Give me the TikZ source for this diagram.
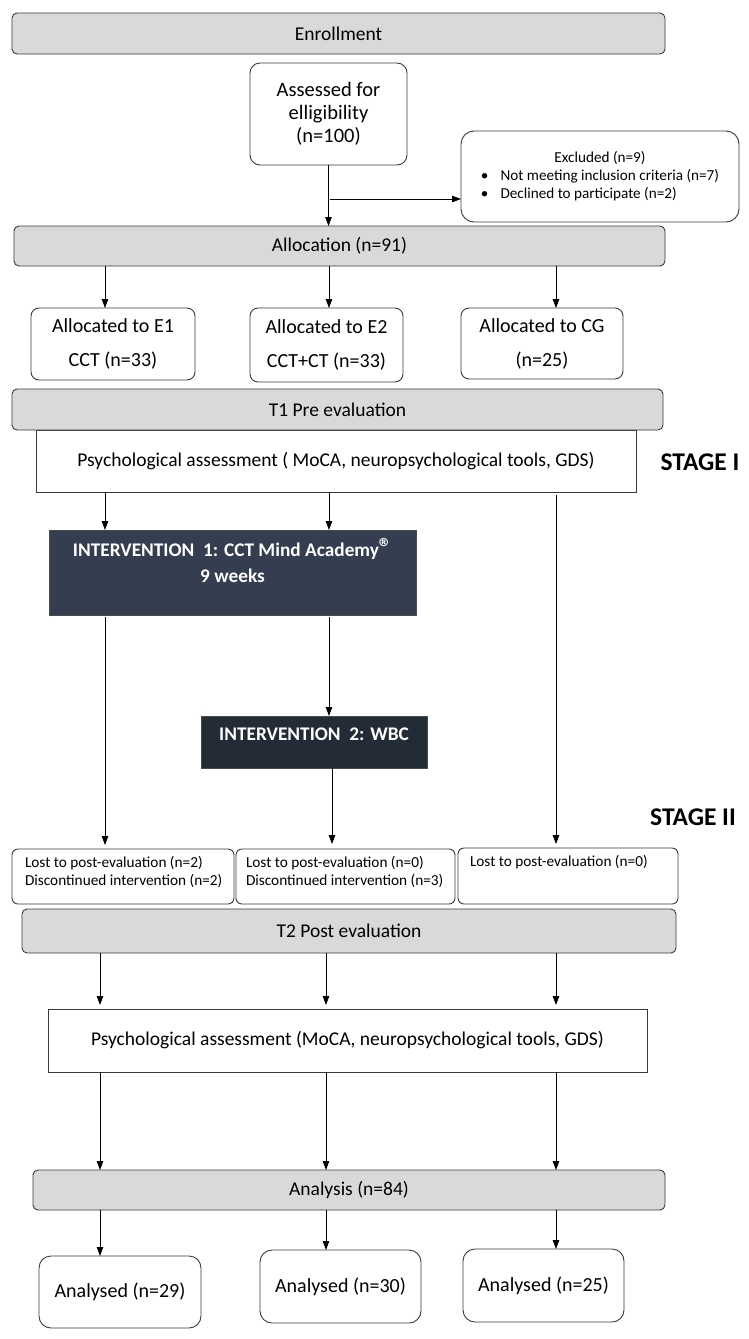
\documentclass[tikz,border=0pt]{standalone}
\usepackage{fontspec}
\setmainfont{Carlito}
\usetikzlibrary{arrows.meta}
\definecolor{boxgray}{HTML}{D9D9D9}
\definecolor{edge}{HTML}{3A3A3A}
\definecolor{darkA}{HTML}{343E50}
\definecolor{darkB}{HTML}{232B37}
\begin{document}
\begin{tikzpicture}[x=1pt,y=-1pt,
  every node/.style={inner sep=0pt, outer sep=0pt},
  graybar/.style={draw=edge, fill=boxgray, rounded corners=5pt, line width=0.9pt, font=\fontsize{19.5}{22}\selectfont},
  rbox/.style={draw=edge, fill=white, line width=0.9pt},
  plainbox/.style={draw=edge, fill=white, line width=0.9pt, font=\fontsize{19.5}{22}\selectfont},
  darkbox/.style={draw=black!70, fill=#1, line width=0.9pt},
  inttext/.style={text=white, font=\bfseries\fontsize{19.3}{26}\selectfont, align=center},
  smalltext/.style={font=\fontsize{15.3}{18}\selectfont, align=left},
  stagetext/.style={font=\bfseries\fontsize{25.5}{28}\selectfont},
  boxtext/.style={font=\fontsize{20}{20}\selectfont, align=center},
  arr/.style={-{Triangle[length=9pt,width=6.5pt]}, line width=0.75pt, black}]
\useasboundingbox[fill=white] (0,0) rectangle (749,1339);

% top part
\node[graybar, minimum width=653pt, minimum height=41pt] (enroll) at (338.5,33.5) {Enrollment};
\node[rbox, rounded corners=10pt, minimum width=157pt, minimum height=102pt, align=center, font=\fontsize{20.5}{23}\selectfont] (assess) at (328.5,114) {Assessed for\\elligibility\\(n=100)};
\node[rbox, rounded corners=13pt, minimum width=278pt, minimum height=91pt, font=\fontsize{15.2}{18}\selectfont] (excl) at (600,176.5)
  {\begin{tabular}{@{}l@{\hspace{12pt}}l@{}}\multicolumn{2}{c}{Excluded (n=9)}\\ \textbullet & Not meeting inclusion criteria (n=7)\\ \textbullet & Declined to participate (n=2)\end{tabular}};
\node[graybar, minimum width=651pt, minimum height=40pt] (alloc) at (339.5,246) {Allocation (n=91)};

\node[rbox, boxtext, rounded corners=8pt, minimum width=164pt, minimum height=72pt] (e1) at (113,344) {Allocated to E1\\[14pt]CCT (n=33)};
\node[rbox, boxtext, rounded corners=8pt, minimum width=153pt, minimum height=74pt] (e2) at (326.5,345) {Allocated to E2\\[14pt]CCT+CT (n=33)};
\node[rbox, boxtext, rounded corners=8pt, minimum width=162pt, minimum height=71pt] (cg) at (542,343.5) {Allocated to CG\\[14pt](n=25)};

\node[plainbox, minimum width=600pt, minimum height=62pt] (psy1) at (336,461) {Psychological assessment ( MoCA, neuropsychological tools, GDS)};
\node[graybar, minimum width=651pt, minimum height=41pt] (t1) at (337.5,409.5) {T1 Pre evaluation};
\node[stagetext] (st1) at (700,462) {STAGE I};

% interventions
\node[darkbox=darkA, minimum width=367pt, minimum height=85pt] (int1) at (232.5,572.5) {};
\node[inttext] (int1t) at (232.5,560) {INTERVENTION\ \ 1: CCT Mind Academy{\fontsize{26}{26}\selectfont ®}\\9 weeks};
\node[darkbox=darkB, minimum width=226pt, minimum height=52pt] (int2) at (314,742) {};
\node[inttext] (int2t) at (314,734) {INTERVENTION\ \ 2: WBC};
\node[stagetext] (st2) at (693,817) {STAGE II};

% lost boxes
\node[rbox, rounded corners=6pt, minimum width=222pt, minimum height=55pt] (lost1) at (123,876.5) {};
\node[rbox, rounded corners=6pt, minimum width=219pt, minimum height=55pt] (lost2) at (345.5,876.5) {};
\node[rbox, rounded corners=6pt, minimum width=220pt, minimum height=56pt] (lost3) at (568,876) {};
\node[smalltext, anchor=north west] (lost1t) at ([xshift=13pt,yshift=-7pt]lost1.north west) {Lost to post-evaluation (n=2)\\Discontinued intervention (n=2)};
\node[smalltext, anchor=north west] (lost2t) at ([xshift=10pt,yshift=-7pt]lost2.north west) {Lost to post-evaluation (n=0)\\Discontinued intervention (n=3)};
\node[smalltext, anchor=north west] (lost3t) at ([xshift=12pt,yshift=-7pt]lost3.north west) {Lost to post-evaluation (n=0)};

% bottom part
\node[graybar, minimum width=654pt, minimum height=44pt] (t2) at (349,931) {T2 Post evaluation};
\node[plainbox, minimum width=599pt, minimum height=63pt] (psy2) at (347.5,1040.5) {Psychological assessment (MoCA, neuropsychological tools, GDS)};
\node[graybar, minimum width=632pt, minimum height=40pt] (anal) at (349,1190) {Analysis (n=84)};
\node[rbox, boxtext, rounded corners=12pt, minimum width=162pt, minimum height=72pt] (a1) at (120,1292) {Analysed (n=29)};
\node[rbox, boxtext, rounded corners=12pt, minimum width=161pt, minimum height=73pt] (a2) at (340.5,1286.5) {Analysed (n=30)};
\node[rbox, boxtext, rounded corners=12pt, minimum width=161pt, minimum height=73pt] (a3) at (543.5,1285.5) {Analysed (n=25)};

% column coordinates
\coordinate (c1) at (105,0);
\coordinate (c2) at (329,0);
\coordinate (c2b) at (332,0);
\coordinate (c3) at (556,0);
\coordinate (d1) at (100,0);
\coordinate (d2) at (326,0);
\coordinate (br) at (330,199);

% connectors
\draw[arr] (assess.south) -- (assess.south |- alloc.north);
\draw[arr] (br) -- (br -| excl.west);
\draw[arr] (alloc.south -| c1) -- (e1.north -| c1);
\draw[arr] (alloc.south -| c2) -- (e2.north -| c2);
\draw[arr] (alloc.south -| c3) -- (cg.north -| c3);
\draw[arr] (psy1.south -| c1) -- (int1.north -| c1);
\draw[arr] (psy1.south -| c2) -- (int1.north -| c2);
\draw[arr, shorten >=4pt] ([yshift=-3pt]psy1.south -| c3) -- (lost3.north -| c3);
\draw[arr, shorten >=4pt] ([yshift=-2pt]int1.south -| c1) -- (lost1.north -| c1);
\draw[arr] ([yshift=-2pt]int1.south -| c2) -- (int2.north -| c2);
\draw[arr, shorten >=5pt] (int2.south -| c2b) -- (lost2.north -| c2b);
\draw[arr, shorten >=4pt] (t2.south -| d1) -- (psy2.north -| d1);
\draw[arr, shorten >=4pt] (t2.south -| d2) -- (psy2.north -| d2);
\draw[arr, shorten >=4pt] (t2.south -| c3) -- (psy2.north -| c3);
\draw[arr] (psy2.south -| d1) -- (anal.north -| d1);
\draw[arr] (psy2.south -| d2) -- (anal.north -| d2);
\draw[arr] (psy2.south -| c3) -- (anal.north -| c3);
\draw[arr] (anal.south -| d1) -- (a1.north -| d1);
\draw[arr] (anal.south -| d2) -- (a2.north -| d2);
\draw[arr] (anal.south -| c3) -- (a3.north -| c3);
\end{tikzpicture}
\end{document}
